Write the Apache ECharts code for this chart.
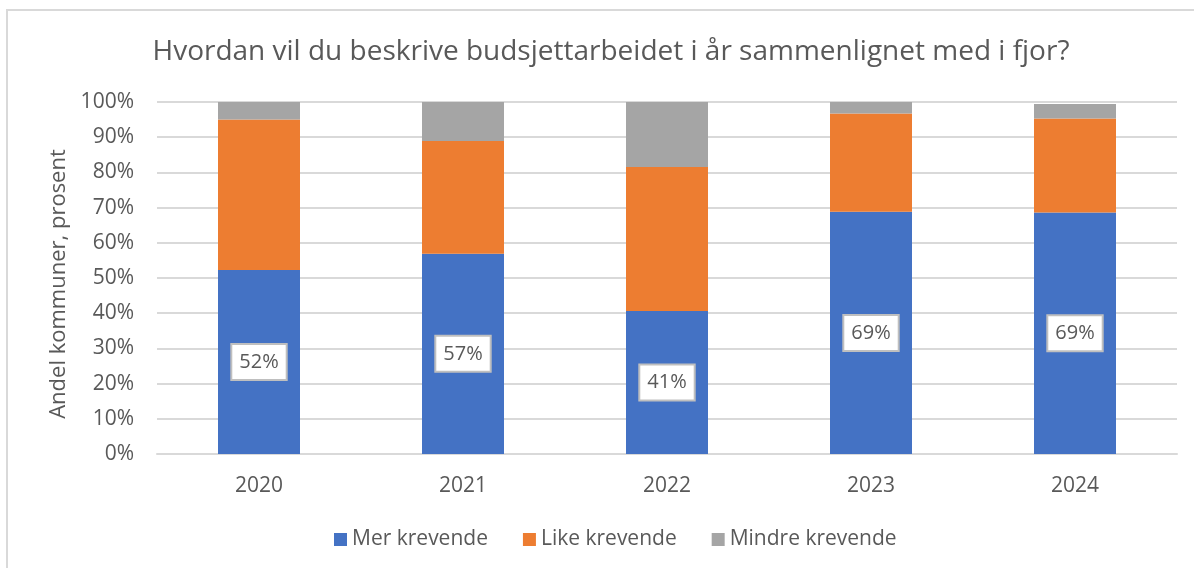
<!DOCTYPE html>
<html>
<head>
<meta charset="utf-8">
<script src="https://cdn.jsdelivr.net/npm/echarts@6/dist/echarts.min.js"></script>
<style>
  html, body { margin: 0; padding: 0; background: #fff; }
  #main { width: 1194px; height: 568px; }
</style>
</head>
<body>
<div id="main"></div>
<script>
// data (percent of kommuner)
const years = ['2020', '2021', '2022', '2023', '2024'];
const merKrevende = [52.3, 56.9, 40.6, 68.8, 68.6];
const likeKrevende = [42.7, 32.0, 40.9, 27.9, 26.7];
const mindreKrevende = [5.0, 11.1, 18.5, 3.3, 4.1];

const textColor = '#595959';
const font = 'Open Sans';

const chart = echarts.init(document.getElementById('main'), null, { renderer: 'canvas' });

var option = {
  animation: false,
  backgroundColor: '#ffffff',
  color: ['#4472C4', '#ED7D31', '#A5A5A5'],
  title: {
    text: 'Hvordan vil du beskrive budsjettarbeidet i år sammenlignet med i fjor?',
    left: 606,
    textAlign: 'center',
    top: 33,
    textStyle: { fontFamily: font, fontSize: 28, fontWeight: 'normal', color: textColor }
  },
  graphic: [{
    type: 'rect',
    shape: { x: 7, y: 10, width: 1200, height: 600 },
    style: { fill: 'none', stroke: '#d9d9d9', lineWidth: 2 },
    silent: true
  }],
  legend: {
    bottom: 13,
    left: 329,
    icon: 'rect',
    itemWidth: 13,
    itemHeight: 13,
    itemGap: 35,
    textStyle: { fontFamily: font, fontSize: 21, color: textColor }
  },
  grid: { left: 157, right: 17, top: 102, bottom: 114 },
  xAxis: {
    type: 'category',
    data: years,
    axisLine: { lineStyle: { color: '#d9d9d9', width: 2 } },
    axisTick: { show: false },
    axisLabel: { fontFamily: font, fontSize: 21, color: textColor, margin: 22 }
  },
  yAxis: {
    type: 'value',
    min: 0,
    max: 100,
    interval: 10,
    name: 'Andel kommuner, prosent',
    nameLocation: 'middle',
    nameRotate: 90,
    nameGap: 87,
    nameTextStyle: { fontFamily: font, fontSize: 22, color: textColor, padding: [0, 12, 0, 0] },
    axisLabel: { formatter: '{value}%', fontFamily: font, fontSize: 21, color: textColor, margin: 23 },
    splitLine: { lineStyle: { color: '#d9d9d9', width: 2 } }
  },
  series: [{
    name: 'Mer krevende',
    type: 'bar',
    stack: 'total',
    barWidth: 82,
    data: merKrevende,
    label: {
      show: true,
      position: 'inside',
      formatter: function (p) { return Math.round(p.value) + '%'; },
      fontFamily: font,
      fontSize: 20,
      color: textColor,
      backgroundColor: '#ffffff',
      borderColor: '#bfbfbf',
      borderWidth: 2,
      padding: [8, 7, 6, 7]
    }
  }, {
    name: 'Like krevende',
    type: 'bar',
    stack: 'total',
    barWidth: 82,
    data: likeKrevende
  }, {
    name: 'Mindre krevende',
    type: 'bar',
    stack: 'total',
    barWidth: 82,
    data: mindreKrevende
  }]
};

chart.setOption(option);
</script>
</body>
</html>
